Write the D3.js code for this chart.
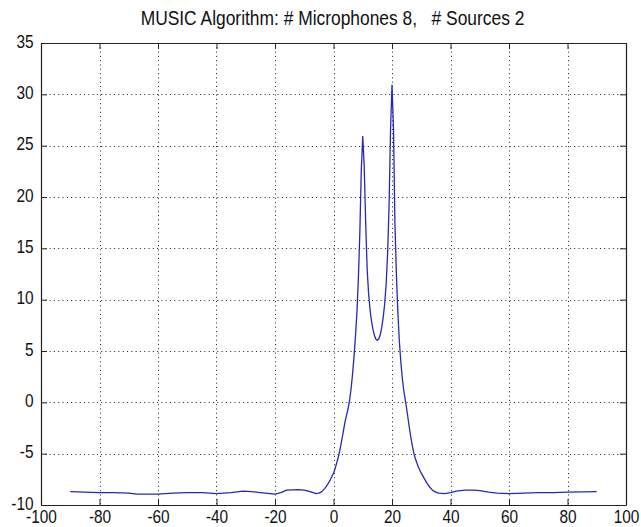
<!DOCTYPE html>
<html>
<head>
<meta charset="utf-8">
<script src="https://cdn.jsdelivr.net/npm/d3@7"></script>
<style>
  html, body { margin: 0; padding: 0; background: #fff; }
  svg { display: block; }
  text { font-family: "Liberation Sans", Arial, Helvetica, sans-serif; fill: #111; }
</style>
</head>
<body>
<svg id="chart" width="641" height="527"></svg>
<script>
// MUSIC pseudo-spectrum (dB) versus arrival angle (degrees)
const angles = [
  -90, -85, -80, -75, -70, -67, -60, -55, -50, -45, -40, -35, -31, -28, -25, -20, -18, -16, -12, -10, -8, -6, -5, -4, -3, -2, -1,
  0, 0.5, 1, 1.5, 2, 2.5, 3, 3.5, 4, 4.5, 5, 5.5, 6, 6.5, 7, 7.5, 8, 8.5, 9, 9.5,
  10, 10.5, 11, 11.5, 12, 12.5, 13, 13.5, 14, 14.5, 15, 15.5, 16, 16.5, 17, 17.5, 18, 18.5, 19, 19.5,
  20, 20.5, 21, 21.5, 22, 22.5, 23, 23.5, 24, 24.5, 25, 25.5, 26, 26.5, 27, 27.5, 28,
  29, 30, 31, 32, 33, 34, 35, 36, 38, 40, 42, 45, 48, 50, 53, 56, 60, 65, 70, 75, 80, 85, 90
];
const spectrum = [
  -8.7, -8.75, -8.8, -8.8, -8.85, -8.95, -8.95, -8.85, -8.8, -8.8, -8.9, -8.8, -8.65, -8.7, -8.8, -8.95, -8.8, -8.55, -8.5, -8.55, -8.7, -8.9, -8.85, -8.7, -8.4, -8.0, -7.5,
  -6.9, -6.5, -6.0, -5.5, -4.9, -4.2, -3.4, -2.6, -1.8, -1.2, -0.6, 0.2, 1.3, 2.7, 4.4, 6.4, 8.7, 12.0, 16.5, 22.6,
  25.9, 23.0, 17.5, 13.0, 10.6, 9.0, 7.9, 7.1, 6.5, 6.15, 6.05, 6.2, 6.6, 7.3, 8.3, 9.6, 11.5, 14.5, 19.2, 26.5,
  30.9, 26.8, 17.5, 12.5, 8.8, 6.0, 4.0, 2.4, 1.2, 0.3, -0.6, -1.6, -2.6, -3.5, -4.3, -5.0, -5.5,
  -6.3, -6.9, -7.4, -7.9, -8.3, -8.6, -8.75, -8.85, -8.9, -8.8, -8.65, -8.55, -8.55, -8.6, -8.75, -8.85, -8.9, -8.85, -8.8, -8.8, -8.75, -8.72, -8.7
];

const xTicks = [-100, -80, -60, -40, -20, 0, 20, 40, 60, 80, 100];
const yTicks = [-10, -5, 0, 5, 10, 15, 20, 25, 30, 35];
const title = "MUSIC Algorithm: # Microphones 8,   # Sources 2";

const svg = d3.select("#chart");
const plot = { left: 41, right: 626, top: 43, bottom: 505 };

const x = d3.scaleLinear().domain([-100, 100]).range([plot.left, plot.right]);
const y = d3.scaleLinear().domain([-10, 35]).range([plot.bottom, plot.top]);

// dotted grid
const grid = svg.append("g").attr("stroke", "#222").attr("stroke-width", 1)
  .attr("stroke-dasharray", "1,3.3");
grid.selectAll(".gx").data(xTicks.slice(1, -1)).join("line")
  .attr("x1", d => Math.round(x(d)) + 0.5).attr("x2", d => Math.round(x(d)) + 0.5)
  .attr("y1", plot.top).attr("y2", plot.bottom);
grid.selectAll(".gy").data(yTicks.slice(1, -1)).join("line")
  .attr("y1", d => Math.round(y(d)) + 0.5).attr("y2", d => Math.round(y(d)) + 0.5)
  .attr("x1", plot.left).attr("x2", plot.right);

// spectrum curve
const line = d3.line().x((d, i) => x(angles[i])).y(d => y(d));
svg.append("path").datum(spectrum)
  .attr("fill", "none").attr("stroke", "#2828b4").attr("stroke-width", 1.3)
  .attr("stroke-linejoin", "round")
  .attr("d", line);

// axes with inward ticks on all four sides
const tickLen = 6;
const squeeze = 0.88;        // narrow the tick-label glyphs horizontally
const labelSize = 17.5;
const axes = [
  { axis: d3.axisBottom(x), tx: 0, ty: plot.bottom, side: "bottom" },
  { axis: d3.axisTop(x), tx: 0, ty: plot.top, side: "top" },
  { axis: d3.axisLeft(y), tx: plot.left, ty: 0, side: "left" },
  { axis: d3.axisRight(y), tx: plot.right, ty: 0, side: "right" }
];
axes.forEach(a => {
  const isX = a.side === "bottom" || a.side === "top";
  a.axis.tickValues(isX ? xTicks : yTicks).tickSizeInner(-tickLen).tickSizeOuter(0)
    .tickFormat(d => String(d));
  const g = svg.append("g").attr("transform", `translate(${a.tx},${a.ty})`).call(a.axis);
  g.select(".domain").attr("stroke", "#222").attr("stroke-width", 1.2);
  g.selectAll(".tick line").attr("stroke", "#222").attr("stroke-width", 1);
  const t = g.selectAll(".tick text")
    .style("font-family", "'Liberation Sans', Arial, sans-serif")
    .style("font-size", labelSize + "px").attr("fill", "#111")
    .attr("dy", null);
  if (a.side === "bottom") {
    t.attr("y", 18).attr("x", 0).attr("transform", `scale(${squeeze},1)`);
  } else if (a.side === "left") {
    t.attr("y", 4.2).attr("x", -7.5 / squeeze).attr("transform", `scale(${squeeze},1)`);
  } else {
    t.remove();
  }
});

svg.append("text")
  .attr("transform", `translate(${(plot.left + plot.right) / 2 - 1},25) scale(0.87,1)`)
  .attr("text-anchor", "middle")
  .attr("xml:space", "preserve")
  .style("white-space", "pre")
  .style("font-size", "20px")
  .text(title);
</script>
</body>
</html>
